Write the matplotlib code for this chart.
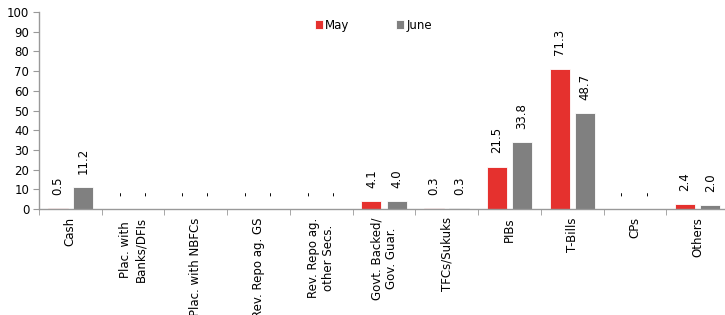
import matplotlib
matplotlib.use("Agg")
import matplotlib.pyplot as plt
import numpy as np

categories = ["Cash", "Plac. with\nBanks/DFIs", "Plac. with NBFCs", "Rev. Repo ag. GS",
              "Rev. Repo ag.\nother Secs.", "Govt. Backed/\nGov. Guar.", "TFCs/Sukuks",
              "PIBs", "T-Bills", "CPs", "Others"]
may = [0.5, 0, 0, 0, 0, 4.1, 0.3, 21.5, 71.3, 0, 2.4]
june = [11.2, 0, 0, 0, 0, 4.0, 0.3, 33.8, 48.7, 0, 2.0]
may_labels = ["0.5", "-", "-", "-", "-", "4.1", "0.3", "21.5", "71.3", "-", "2.4"]
june_labels = ["11.2", "-", "-", "-", "-", "4.0", "0.3", "33.8", "48.7", "-", "2.0"]
yticks = list(range(0, 101, 10))

RED = "#E5312E"
GRAY = "#808080"

fig = plt.figure(figsize=(7.25, 3.15), dpi=100)
W, H = 725, 315
x0, x1 = 39, 729
y0, y1 = 209, 12
ax = fig.add_axes([x0 / W, (H - y0) / H, (x1 - x0) / W, (y0 - y1) / H])

x = np.arange(len(categories))
bw = 0.32
off = 0.2
b1 = ax.bar(x - off, may, bw, color=RED, edgecolor="white", linewidth=0.6, label="May")
b2 = ax.bar(x + off, june, bw, color=GRAY, edgecolor="white", linewidth=0.6, label="June")

for xs, vals, labs in [(x - off, may, may_labels), (x + off, june, june_labels)]:
    for xi, v, lab in zip(xs, vals, labs):
        ax.annotate(lab, (xi, v), xytext=(0, 9.5), textcoords="offset points",
                    rotation=90, ha="center", va="bottom", fontsize=8.5, color="black")

ax.set_xlim(-0.5, len(categories) - 0.5)
ax.set_ylim(0, 100)
ax.set_yticks(yticks)
ax.set_yticklabels([str(t) for t in yticks], fontsize=8.5)
ax.set_xticks(x)
ax.set_xticklabels(categories, rotation=90, fontsize=8.5, ha="center", va="top",
                   multialignment="center")
ax.set_xticks(np.arange(len(categories) + 1) - 0.5, minor=True)
ax.tick_params(axis="x", which="major", length=0, pad=6)
ax.tick_params(axis="x", which="minor", length=4, color="#999999", direction="out")
ax.tick_params(axis="y", length=4, color="#999999", direction="out", pad=3)

for s in ["top", "right"]:
    ax.spines[s].set_visible(False)
for s in ["left", "bottom"]:
    ax.spines[s].set_color("#999999")
    ax.spines[s].set_linewidth(1.0)

leg = ax.legend(loc="upper left", bbox_to_anchor=((310 - x0) / (x1 - x0), (y0 - 14) / (y0 - y1)),
                ncol=2, frameon=False, fontsize=8.5, handlelength=0.7, handleheight=0.7,
                handletextpad=0.2, columnspacing=3.9, borderaxespad=0)

fig.savefig("out.png", dpi=100)
